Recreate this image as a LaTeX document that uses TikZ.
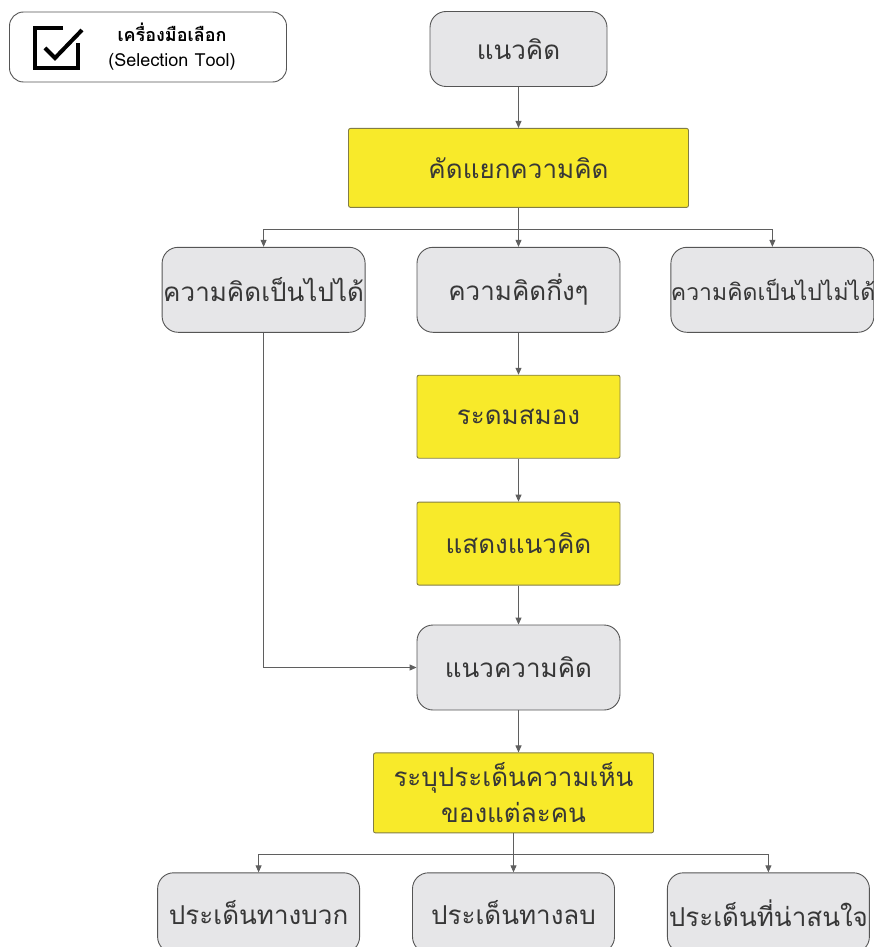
\documentclass[tikz,border=0pt]{standalone}
\usepackage{fontspec}
\newfontfamily\thai[Script=Thai]{Loma}
\usepackage{tikz}
\usetikzlibrary{arrows.meta,positioning}

\definecolor{greybox}{RGB}{230,230,232}
\definecolor{greyline}{RGB}{85,85,85}
\definecolor{yellowbox}{RGB}{248,234,42}
\definecolor{yellowline}{RGB}{130,125,70}
\definecolor{linkgrey}{RGB}{95,95,95}
\definecolor{inkgrey}{RGB}{55,55,55}

\begin{document}
\begin{tikzpicture}[
    x=1pt, y=-1pt,
    base/.style={align=center, inner sep=0pt, text=inkgrey, font=\thai\fontsize{26}{36}\selectfont, line width=0.9pt},
    soft/.style={base, draw=greyline, fill=greybox, rounded corners=16pt, text width=203pt, minimum height=85pt},
    hilite/.style={base, draw=yellowline, fill=yellowbox, rounded corners=2pt, text width=203pt, minimum height=83pt},
    leaf/.style={soft, text width=202pt, minimum height=80pt},
    link/.style={-{Triangle[length=7pt, width=6pt]}, draw=linkgrey, line width=0.9pt}
  ]
    \useasboundingbox (0,0) rectangle (874,947);
    \clip (0,0) rectangle (874,947);
    % legend
    \node[draw=greyline, fill=white, rounded corners=14pt, line width=0.9pt, minimum width=277pt, minimum height=70pt] (legend) at (148,47) {};
    \draw[line width=4pt] (63,28) -- (35,28) -- (35,68) -- (78,68) -- (78,43);
    \draw[line width=4pt] (45,48) -- (55,58) -- (82,30);
    \node[align=center, font=\thai\fontsize{18}{25}\selectfont] (tool) at (172,47) {{\bfseries เครื่องมือเลือก}\\(Selection Tool)};
    % main column
    \node[soft, text width=177pt, minimum height=75pt] (idea) at (518.5,49) {แนวคิด};
    \node[hilite, text width=340pt, minimum height=79pt, below=41pt of idea] (sort) {คัดแยกความคิด};
    \node[soft, below=39pt of sort] (half) {ความคิดกึ่งๆ};
    \node[soft, left=51pt of half] (can) {ความคิดเป็นไปได้};
    \node[soft, right=50pt of half, font=\thai\fontsize{23}{30}\selectfont] (cannot) {ความคิดเป็นไปไม่ได้};
    \node[hilite, below=42pt of half] (storm) {ระดมสมอง};
    \node[hilite, below=43pt of storm] (show) {แสดงแนวคิด};
    \node[soft, below=39pt of show] (concept) {แนวความคิด};
    \node[hilite, text width=280pt, minimum height=80pt, below=42pt of concept, xshift=-5pt] (point) {ระบุประเด็นความเห็น\\ของแต่ละคน};
    \node[leaf, below=39pt of point] (minus) {ประเด็นทางลบ};
    \node[leaf, left=52pt of minus] (plus) {ประเด็นทางบวก};
    \node[leaf, right=52pt of minus] (notable) {ประเด็นที่น่าสนใจ};
    \coordinate[below=22pt of sort] (fork);
    \coordinate[below=21pt of point] (fork2);
    % connectors
    \draw[link] (idea) -- (sort);
    \draw[link] (sort) -- (half);
    \draw[link] (fork) -| (can.north);
    \draw[link] (fork) -| (cannot.north);
    \draw[link] (half) -- (storm);
    \draw[link] (storm) -- (show);
    \draw[link] (show) -- (concept);
    \draw[link] (can.south) |- (concept.west);
    \draw[link] (concept) -- (concept.south |- point.north);
    \draw[link] (point) -- (minus);
    \draw[link] (fork2) -| (plus.north);
    \draw[link] (fork2) -| (notable.north);
\end{tikzpicture}
\end{document}
